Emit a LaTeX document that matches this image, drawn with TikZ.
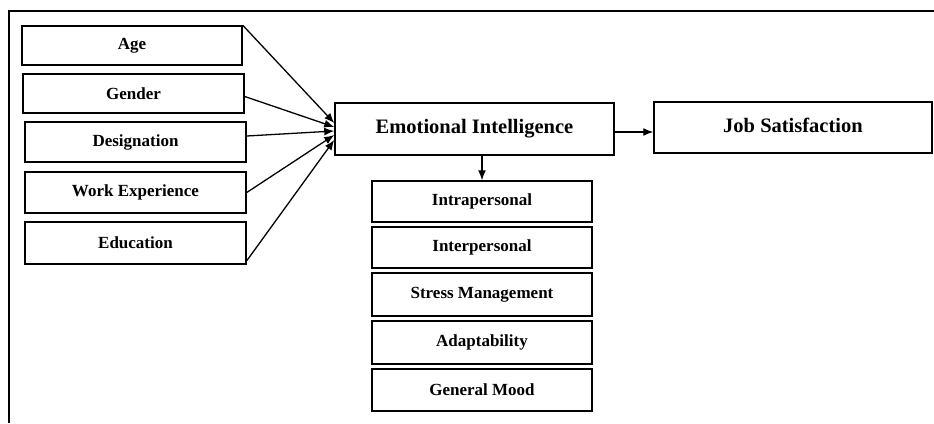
\documentclass[tikz,border=0pt]{standalone}
\usepackage{fontspec}
\setmainfont{Liberation Serif}
\usetikzlibrary{arrows.meta}
\begin{document}
\begin{tikzpicture}[x=1pt,y=-1pt,
  box/.style={draw,line width=1.5pt,inner sep=0pt,minimum width=221pt,
    font=\fontsize{17}{20}\selectfont\bfseries},
  bigbox/.style={draw,line width=1.5pt,inner sep=0pt,
    font=\fontsize{20.5}{24}\selectfont\bfseries},
  conn/.style={line width=1.3pt,-{Latex[length=10pt,width=8pt]}}]
\useasboundingbox (0,0) rectangle (934,423);
\draw[line width=2pt] (9,423) -- (9,11) -- (934,11);
% left factors
\node[box,minimum width=220pt,minimum height=39pt] (age) at (132,45.5) {Age};
\node[box,minimum height=39pt] (gen) at (133.5,93.5) {Gender};
\node[box,minimum height=40pt] (des) at (135.5,142) {Designation};
\node[box,minimum height=41pt] (work) at (135.5,192.5) {Work Experience};
\node[box,minimum height=42pt] (edu) at (135.5,243) {Education};
% main
\node[bigbox,minimum width=279pt,minimum height=52pt] (ei) at (474.5,129) {\raisebox{4pt}{Emotional Intelligence}};
\node[bigbox,minimum width=278pt,minimum height=51pt] (js) at (793,127.5) {\raisebox{4pt}{Job Satisfaction}};
% components
\node[box,minimum width=220pt,minimum height=41pt] (intra) at (482,201.5) {Intrapersonal};
\node[box,minimum width=220pt,minimum height=41pt] (inter) at (482,247.5) {Interpersonal};
\node[box,minimum width=220pt,minimum height=43pt] (stress) at (482,294.5) {Stress Management};
\node[box,minimum width=220pt,minimum height=43pt] (adapt) at (482,342.5) {Adaptability};
\node[box,minimum width=220pt,minimum height=42pt] (mood) at (482,390) {General Mood};
% connectors
\draw[conn] (age.north east) -- ([yshift=6pt]ei.west);
\draw[conn] ([yshift=-3pt]gen.east) -- ([yshift=2pt]ei.west);
\draw[conn] ([yshift=6pt]des.east) -- ([yshift=-2pt]ei.west);
\draw[conn] (work.east) -- ([yshift=-6pt]ei.west);
\draw[conn] ([yshift=4pt]edu.south east) -- ([yshift=-11pt]ei.west);
\draw[conn] ([xshift=7.5pt]ei.south) -- ([xshift=7.5pt]ei.south |- intra.north);
\draw[conn] ([yshift=-3pt]ei.east) -- ([yshift=-3pt]ei.east -| js.west);
\end{tikzpicture}
\end{document}
